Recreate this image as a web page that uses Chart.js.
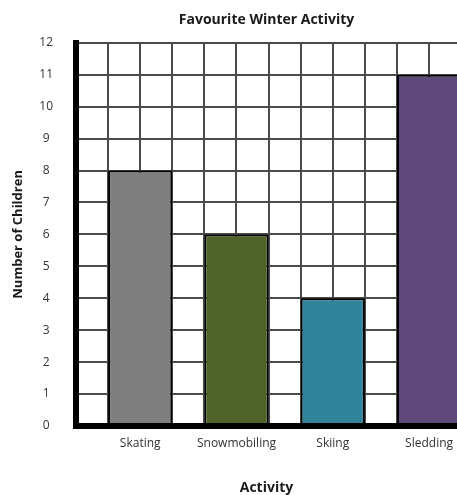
<!DOCTYPE html>
<html>
<head>
<meta charset="utf-8">
<script src="https://cdn.jsdelivr.net/npm/chart.js@4/dist/chart.umd.min.js"></script>
<style>
    body { margin: 0; background: #fff; }
    #wrap { width: 457px; height: 495px; }
</style>
</head>
<body>
<div id="wrap"><canvas id="chartWinter"></canvas></div>
<script>
// values
let activities = ["Skating", "Snowmobiling", "Skiing", "Sledding"];
let children = [8, 6, 4, 11];
let barColors = ["#7f7f7f", "#4f6228", "#31849b", "#5f497a"];
let yTicks = [0, 1, 2, 3, 4, 5, 6, 7, 8, 9, 10, 11, 12];

// three grid columns per activity, activity i sits at x = i + 1
let gridSteps = 3;
let xMin = 1 / gridSteps;
let xMax = 4.29;

let points = activities.map((name, i) => ({ x: i + 1, y: children[i] }));

// axis lines drawn again on top of the bars, as in the original
const axisOnTop = {
    id: 'axisOnTop',
    afterDatasetsDraw(chart) {
        chart.scales.x.drawBorder();
        chart.scales.y.drawBorder();
    }
};

new Chart("chartWinter", {
    type: "bar",
    data: {
        datasets: [{
            data: points,
            backgroundColor: barColors,
            borderColor: "#000",
            borderWidth: 2,
            categoryPercentage: 1,
            barPercentage: 2
        }]
    },
    plugins: [axisOnTop],
    options: {
        responsive: true,
        maintainAspectRatio: false,
        animation: false,
        layout: { padding: 0 },
        plugins: {
            legend: { display: false },
            tooltip: { enabled: false },
            title: {
                display: true,
                fullSize: false,
                text: "Favourite Winter Activity",
                color: "#1a1a1a",
                font: { family: "Open Sans", size: 14, weight: "bold" },
                padding: { top: 12, bottom: 14 }
            }
        },
        scales: {
            x: {
                type: "linear",
                offset: false,
                min: xMin,
                max: xMax,
                afterBuildTicks: scale => {
                    let ticks = [];
                    for (let k = 1; k <= activities.length * gridSteps; k++) {
                        ticks.push({ value: k / gridSteps });
                    }
                    scale.ticks = ticks;
                },
                // the plot runs off the right edge of the picture
                afterFit: scale => {
                    scale.height = 69;
                    scale.paddingRight = 0;
                },
                grid: { color: "#4a4a4a", lineWidth: 2, drawTicks: false, offset: false },
                border: { color: "#000", width: 6 },
                ticks: {
                    autoSkip: false,
                    maxRotation: 0,
                    padding: 10,
                    color: "#333",
                    font: { family: "Open Sans", size: 12 },
                    callback: value => {
                        let i = Math.round(value);
                        return Math.abs(value - i) < 1e-6 ? activities[i - 1] : "";
                    }
                },
                title: {
                    display: true,
                    text: "Activity",
                    color: "#1a1a1a",
                    font: { family: "Open Sans", size: 14, weight: "bold", lineHeight: 1 },
                    padding: { top: 0, bottom: 0 }
                }
            },
            y: {
                min: yTicks[0],
                max: yTicks[yTicks.length - 1],
                afterFit: scale => { scale.width = 76; },
                grid: { color: "#4a4a4a", lineWidth: 2, drawTicks: false },
                border: { color: "#000", width: 6 },
                ticks: {
                    stepSize: 1,
                    padding: 23,
                    crossAlign: "center",
                    color: "#333",
                    font: { family: "Open Sans", size: 12 }
                },
                title: {
                    display: true,
                    text: "Number of Children",
                    color: "#1a1a1a",
                    font: { family: "Open Sans", size: 13, weight: "bold" },
                    padding: { top: 10, bottom: 0 }
                }
            }
        }
    }
});
</script>
</body>
</html>
